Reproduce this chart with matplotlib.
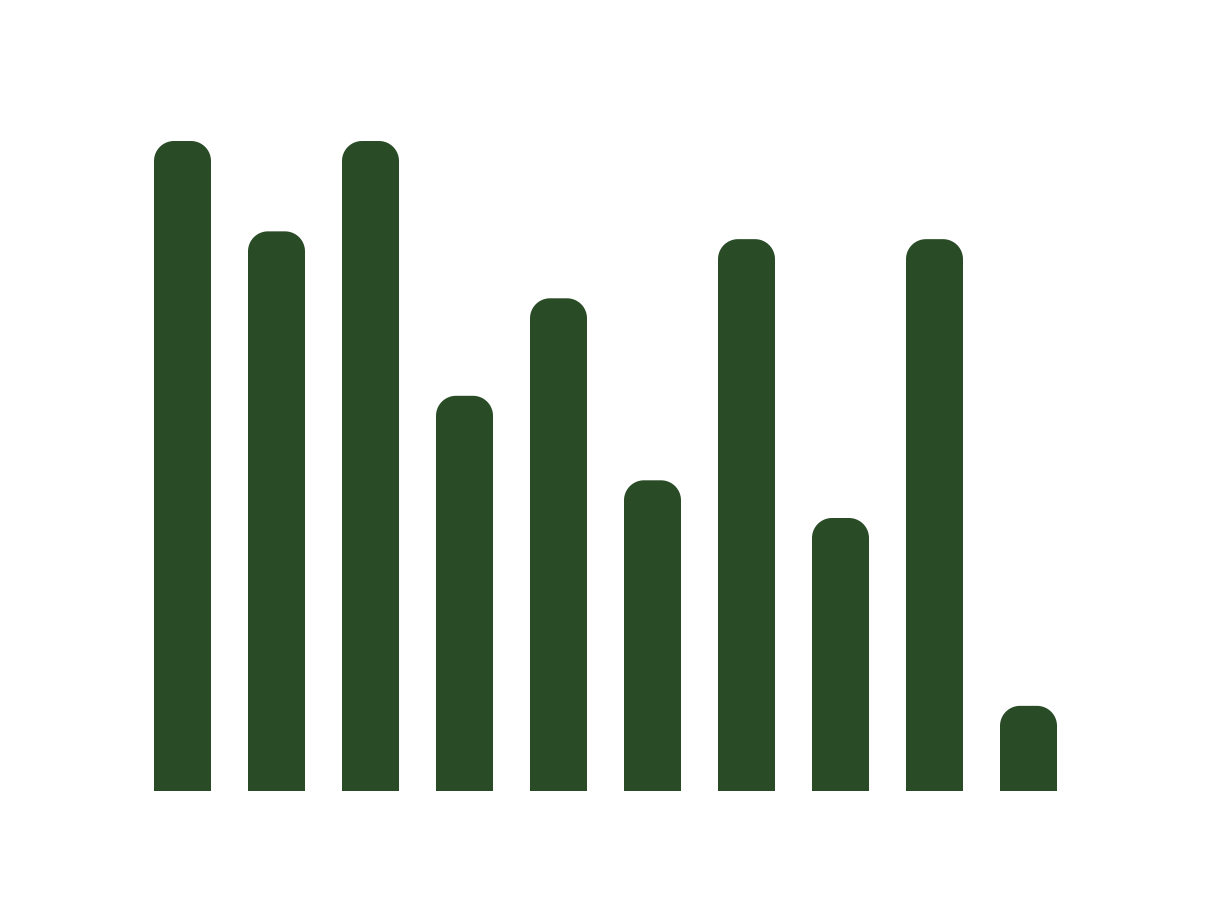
import numpy as np
import matplotlib.pyplot as plt
from matplotlib.path import Path
from matplotlib.patches import PathPatch

# bar heights (tallest bar = 100)
categories = ['A', 'B', 'C', 'D', 'E', 'F', 'G', 'H', 'I', 'J']
values = [100, 86.1, 100, 60.8, 75.8, 47.8, 84.9, 42.0, 84.9, 13.1]

bar_color = '#294c27'
bar_width = 57 / 94

fig = plt.figure(figsize=(12.11, 9.21), dpi=100)
# axes placed so that the slots line up with the reference bars
ax = fig.add_axes([135.5 / 1211, 130 / 921, 940 / 1211, 650 / 921])
ax.set_xlim(-0.5, len(categories) - 0.5)
ax.set_ylim(0, 100)
ax.axis('off')

# corner radius of ~20 px, converted to data units on each axis
r_x = 20 / 94
r_y = 20 / 6.5
t = np.linspace(0, np.pi / 2, 20)


def rounded_bar(xc, h):
    x0, x1 = xc - bar_width / 2, xc + bar_width / 2
    ry = min(r_y, h)
    # left top corner (from left side going up), then right top corner
    lx = x0 + r_x - r_x * np.cos(t)
    ly = h - ry + ry * np.sin(t)
    rx = x1 - r_x + r_x * np.sin(t)
    ry_ = h - ry + ry * np.cos(t)
    xs = np.concatenate([[x0], lx, rx, [x1, x0]])
    ys = np.concatenate([[0], ly, ry_, [0, 0]])
    return Path(np.column_stack([xs, ys]), closed=True)


for i, v in enumerate(values):
    ax.add_patch(PathPatch(rounded_bar(i, v), facecolor=bar_color,
                           edgecolor='none'))

fig.savefig('out.png', dpi=100, facecolor='white')
